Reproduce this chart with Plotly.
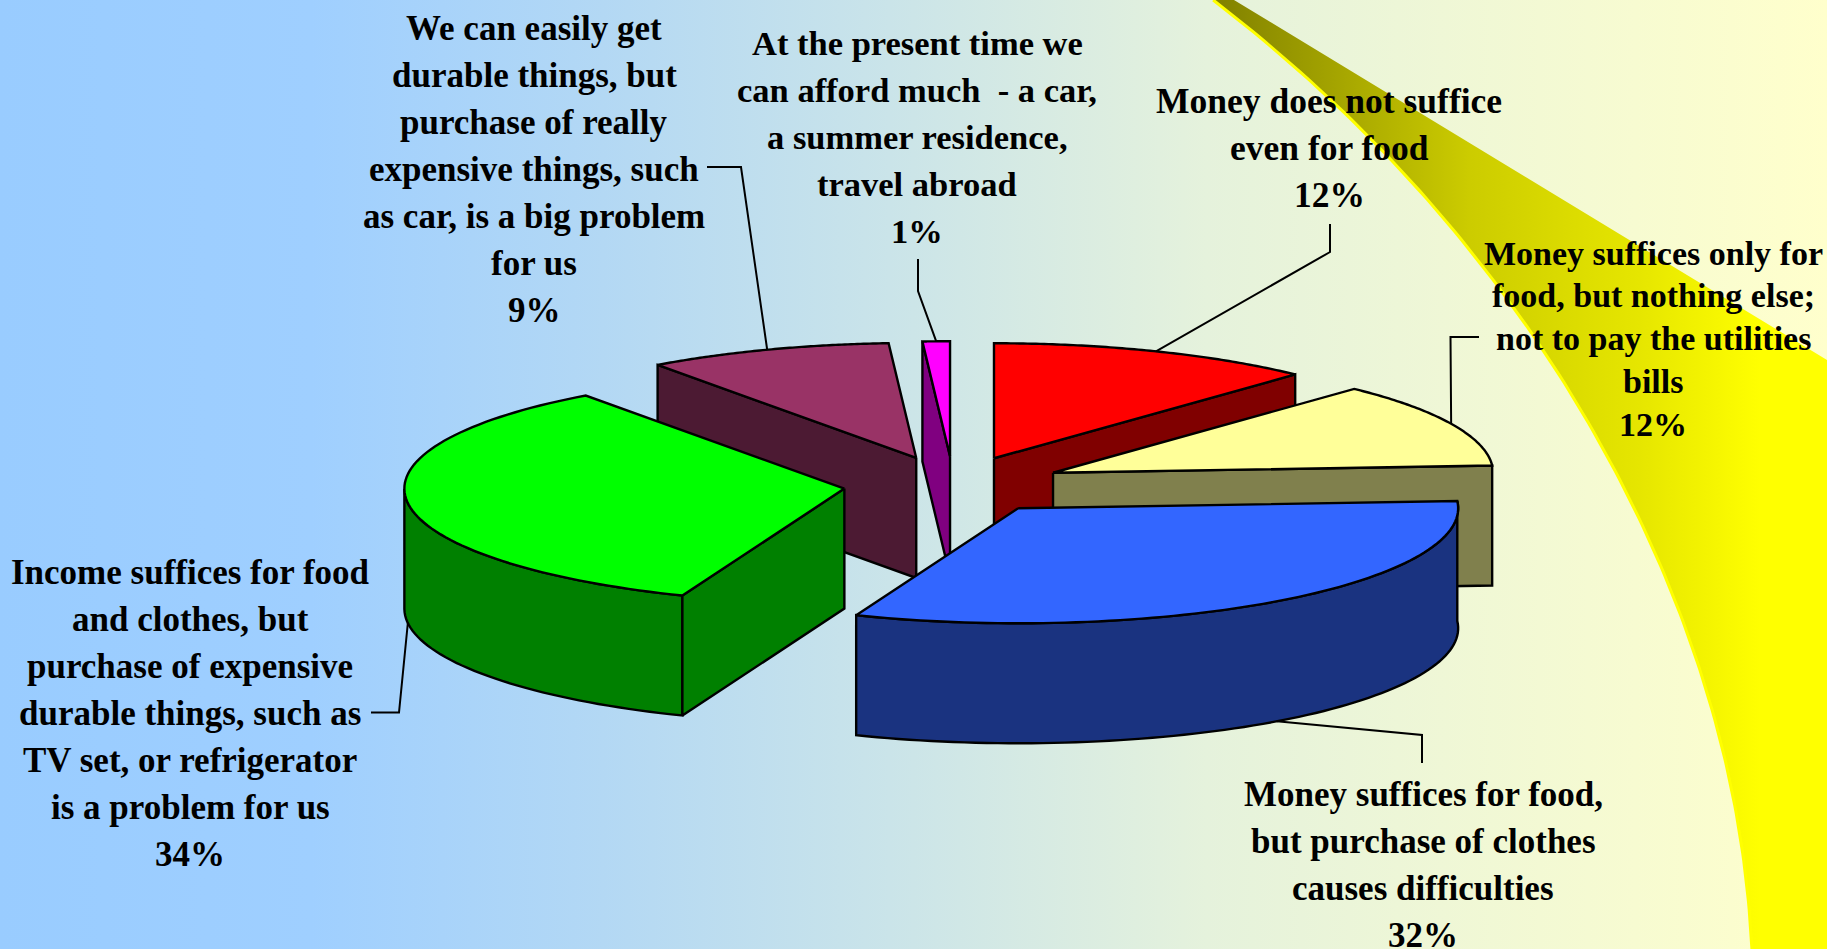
import numpy as np
import plotly.graph_objects as go

# ---- data ----
values = [12, 12, 32, 34, 9, 1]
label_lines = [
    ["Money does not suffice", "even for food"],
    ["Money suffices only for", "food, but nothing else;", "not to pay the utilities", "bills"],
    ["Money suffices for food,", "but purchase of clothes", "causes difficulties"],
    ["Income suffices for food", "and clothes, but", "purchase of expensive", "durable things, such as", "TV set, or refrigerator", "is a problem for us"],
    ["We can easily get", "durable things, but", "purchase of really", "expensive things, such", "as car, is a big problem", "for us"],
    ["At the present time we", "can afford much  - a car,", "a summer residence,", "travel abroad"],
]
top_colors = ["#FF0000", "#FFFF99", "#3366FF", "#00FF00", "#993366", "#FF00FF"]
side_colors = ["#800000", "#80804D", "#1A3380", "#008000", "#4C1A33", "#800080"]

# ---- layout parameters (pixels) ----
W, H = 1827, 949
CX, CY = 953.5, 485.0
RX, RY = 440.0, 115.0
DEPTH = 120.0
PULL = 0.25
LW = 2.4
# label placement: centre x, first-line y, line pitch, font size
label_pos = [
    (1329, 101, 47, 35.5),
    (1653, 253, 42.8, 34),
    (1423, 794, 47, 35),
    (190, 572, 47, 35),
    (534, 28, 47, 35),
    (917, 43, 47, 34.5),
]
# leader line: elbow and end, beginning at the mid-arc of the slice
leaders = [
    [(1330, 252), (1330, 224)],
    [(1450.5, 337), (1479, 337)],
    [(1422, 735), (1422, 763)],
    [(399, 712.5), (371, 712.5)],
    [(741, 167), (707, 167)],
    [(918, 291), (918, 259)],
]
# which wall of the slice shows: 'end' radial, 'start' radial, arc
walls = [["end"], ["end"], ["arc"], ["arc", "start"], ["start"], ["start"]]
draw_order = [4, 5, 0, 1, 3, 2]

fig = go.Figure()


def poly(xs, ys, color, lw=LW):
    fig.add_trace(go.Scatter(x=list(xs), y=list(ys), mode="lines", fill="toself", fillcolor=color,
                             line=dict(color="black", width=lw, simplify=False), hoverinfo="skip",
                             showlegend=False))


# background
fig.add_trace(go.Scatter(x=[0, W, W, 0, 0], y=[0, 0, H, H, 0], mode="lines", fill="toself",
                         line=dict(width=0), hoverinfo="skip", showlegend=False,
                         fillgradient=dict(type="horizontal", start=0, stop=W,
                                           colorscale=[[0, "#99CCFF"], [0.17, "#9FCFFF"], [0.33, "#B3D8F4"],
                                                       [0.5, "#CCE5E8"], [0.66, "#E5F2DC"], [1, "#FFFFCC"]])))
# swoosh: inner edge, smoothed
trace_y = [0, 78, 113, 163, 200, 233, 267, 320, 397, 480, 533, 610, 680, 760, 837, 949]
trace_x = [1213, 1308, 1345, 1391, 1428, 1457, 1484, 1523, 1573, 1618, 1646, 1680, 1703, 1725, 1740, 1752]
yy = np.linspace(0, H, 120)
xx = np.polyval(np.polyfit(np.array(trace_y) / H, trace_x, 5), yy / H)
fig.add_trace(go.Scatter(x=[1234, W, W] + list(xx[::-1]) + [1234], y=[0, 360, H] + list(yy[::-1]) + [0],
                         mode="lines", fill="toself", line=dict(width=0), hoverinfo="skip", showlegend=False,
                         fillgradient=dict(type="horizontal", start=1213, stop=1760,
                                           colorscale=[[0, "#808000"], [0.47, "#CCCC00"], [0.78, "#E6E600"], [1, "#FFFF00"]])))
fig.add_trace(go.Scatter(x=xx, y=yy, mode="lines", hoverinfo="skip", showlegend=False,
                         line=dict(color="#FFFF00", width=3)))

# pie geometry
total = sum(values)
edges = np.cumsum([0] + values) / total * 2 * np.pi
apex = []
for i in range(len(values)):
    mid = (edges[i] + edges[i + 1]) / 2
    apex.append((CX + PULL * RX * np.sin(mid), CY - PULL * RY * np.cos(mid)))


def rim(i, a):
    return apex[i][0] + RX * np.sin(a), apex[i][1] - RY * np.cos(a)


for i in draw_order:
    a0, a1 = edges[i], edges[i + 1]
    ax, ay = apex[i]
    th = np.linspace(a0, a1, 80)
    rx, ry = rim(i, th)
    for w in walls[i]:
        if w == "arc":
            vis = th[np.cos(th) <= 0.02] if i == 3 else th
            bx, by = rim(i, vis)
            poly(list(bx) + list(bx[::-1]) + [bx[0]], list(by) + list((by + DEPTH)[::-1]) + [by[0]], side_colors[i])
        else:
            e = a0 if w == "start" else a1
            ex, ey = rim(i, e)
            poly([ax, ex, ex, ax, ax], [ay, ey, ey + DEPTH, ay + DEPTH, ay], side_colors[i])
    poly([ax] + list(rx) + [ax], [ay] + list(ry) + [ay], top_colors[i])

# leader lines
for i, pts in enumerate(leaders):
    mid = (edges[i] + edges[i + 1]) / 2
    sx, sy = rim(i, mid)
    if np.cos(mid) < 0:
        sy += DEPTH
    fig.add_trace(go.Scatter(x=[sx] + [p[0] for p in pts], y=[sy] + [p[1] for p in pts], mode="lines",
                             line=dict(color="black", width=2), hoverinfo="skip", showlegend=False))

# labels
for v, lines, (lx, ly, pitch, fs) in zip(values, label_lines, label_pos):
    for k, t in enumerate(lines + [f"{v}%"]):
        fig.add_annotation(x=lx, y=ly + k * pitch, text=f"<b>{t}</b>", showarrow=False, xanchor="center",
                           yanchor="middle", font=dict(family="Liberation Serif", size=fs, color="black"))

fig.update_layout(width=W, height=H, margin=dict(l=0, r=0, t=0, b=0), showlegend=False,
                  paper_bgcolor="#CCE5E5", plot_bgcolor="rgba(0,0,0,0)",
                  xaxis=dict(range=[0, W], visible=False, fixedrange=True),
                  yaxis=dict(range=[H, 0], visible=False, fixedrange=True))
fig.write_html("out.html", config={"displayModeBar": False},
               post_script="document.body.style.margin='0';document.body.style.overflow='hidden';")
